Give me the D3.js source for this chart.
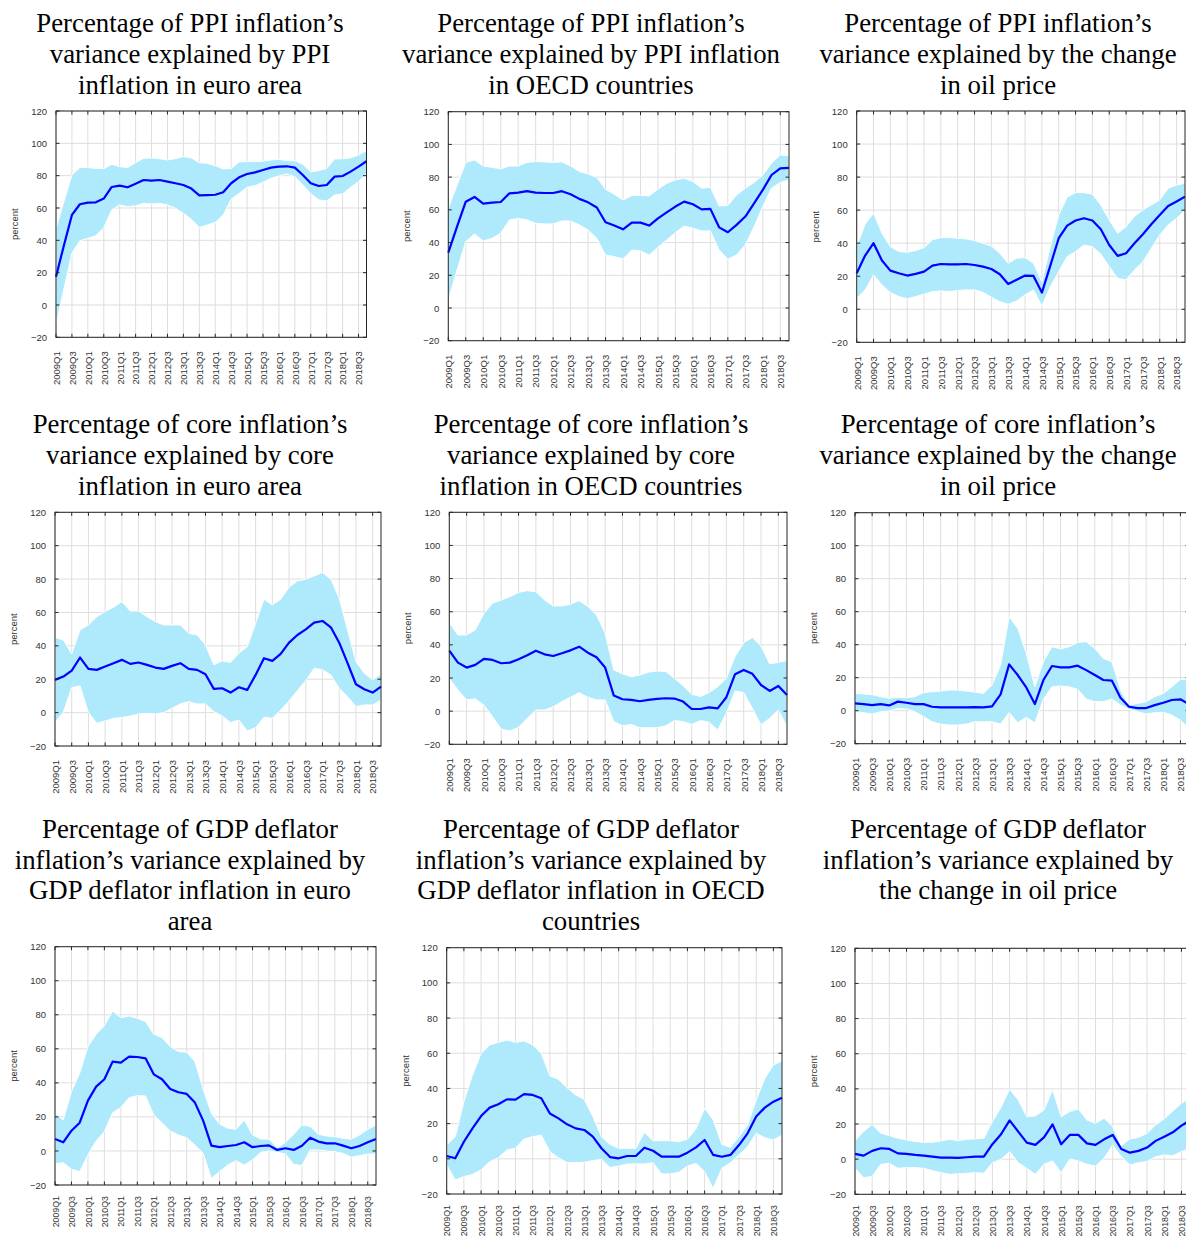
<!DOCTYPE html>
<html>
<head>
<meta charset="utf-8">
<script src="https://cdn.jsdelivr.net/npm/d3@7"></script>
<style>
  html, body { margin: 0; padding: 0; background: #fff; }
  svg { display: block; }
</style>
</head>
<body>
<svg id="chart" width="1186" height="1240"></svg>
<script>
// Quarterly horizon, 2009Q1 - 2018Q4
const quarters = [
  "2009Q1","2009Q2","2009Q3","2009Q4","2010Q1","2010Q2","2010Q3","2010Q4",
  "2011Q1","2011Q2","2011Q3","2011Q4","2012Q1","2012Q2","2012Q3","2012Q4",
  "2013Q1","2013Q2","2013Q3","2013Q4","2014Q1","2014Q2","2014Q3","2014Q4",
  "2015Q1","2015Q2","2015Q3","2015Q4","2016Q1","2016Q2","2016Q3","2016Q4",
  "2017Q1","2017Q2","2017Q3","2017Q4","2018Q1","2018Q2","2018Q3","2018Q4"
];
const xTickLabels = [
  "2009Q1","2009Q3","2010Q1","2010Q3","2011Q1","2011Q3","2012Q1","2012Q3",
  "2013Q1","2013Q3","2014Q1","2014Q3","2015Q1","2015Q3","2016Q1","2016Q3",
  "2017Q1","2017Q3","2018Q1","2018Q3"
];
const yTickValues = [-20, 0, 20, 40, 60, 80, 100, 120];

// PPI inflation explained by euro-area PPI inflation
const ppiEuroMed = [17.5,37,55.7,62.3,63.3,63.5,65.8,73,73.8,72.8,75,77.3,76.9,77.3,76.3,75.3,74.2,72,67.8,68,68.2,69.7,75.3,79,81,82,83.5,85,85.6,85.8,85,80.4,75.3,73.6,74.2,79.4,79.8,82.5,85.6,88.9];
const ppiEuroHi  = [47.4,64,80.4,85,85,84.5,84.3,87,85.6,85,88,90.7,91,90.5,89.7,90.5,91.8,91,88,87.6,86.2,84.1,84.5,88.5,88.7,88.7,89,89.7,90.1,89.3,89.3,87,82.3,83.1,84.5,90.3,90.5,91,92.8,95.5];
const ppiEuroLo  = [-11.8,10,32,39.8,41.2,42.9,47.8,58.8,61.9,60.8,61.4,62.9,62.5,62.9,61.9,59.8,56.7,53,48,49.5,51.1,55.7,65.4,69,72.8,73.8,75.9,78.4,79.8,81,79.4,74.2,69,65,64.3,68,68.7,72.8,76.3,81.4];

// PPI inflation explained by OECD PPI inflation
const ppiOecdMed = [33.8,49.7,65,67.9,63.8,64.4,64.8,70.1,70.5,71.4,70.5,70.3,70.3,71.4,69.5,66.7,64.6,61.4,52.4,50.4,48.1,52.2,52.2,50.4,54.8,58.5,62,65,63.4,60.3,60.6,49.3,46.3,50.8,55.9,64,72.2,81.3,85.4,85.6];
const ppiOecdHi  = [61,75,89,90.5,86.8,86,85,86.8,86.8,89,89.5,89.3,89,89.3,86.8,83.4,82,79.7,72.6,69.5,66,68.7,68.9,68.5,72.6,76.2,78.3,79.3,77.3,73.2,73.8,62.4,62.6,69.1,73.2,76.7,81.3,88.5,93.6,93];
const ppiOecdLo  = [4.9,23.2,40.6,45.3,41,42.6,45.7,53.8,54.8,53.8,51.8,51.4,51.4,53.2,53.2,50.8,47.7,42.6,32.4,31.4,30,35.5,34.9,32.4,37.1,41.6,46.1,50.1,48.7,47.1,47.1,35.5,29.8,32.4,38.5,49.7,62,73.2,76.7,78.3];

// PPI inflation explained by the oil price change
const ppiOilMed = [21.8,32.5,40,29.5,23.4,21.8,20.4,21.4,22.8,26.4,27.4,27.2,27.2,27.4,26.8,25.8,24.4,21.2,15.3,17.8,20.4,20.2,10.1,26.4,43,50.6,53.7,55.1,53.7,48.4,38.9,32.3,33.9,39.9,45.4,51.4,57.1,62.5,65.2,68.2];
const ppiOilHi  = [37.9,51.6,58.1,46,37.9,34.9,34.5,35.5,37.3,42,43.4,43.4,43,42.6,41.6,39.9,38.3,33.9,27.8,30.9,31.3,27.8,16.7,37.9,57,67.8,70.6,70.6,69.6,63.1,54.1,46,50,56.1,60.1,63.1,66.2,73.2,75.2,76.3];
const ppiOilLo  = [6.7,11.7,20.8,14.7,10.1,7.7,6.3,7.7,9.1,10.7,11.1,10.7,11.3,11.7,11.7,10.3,7.3,4.6,3,5,8.7,11.7,2,13.7,22.8,31.9,34.9,38.9,37.9,33.5,25.8,18.8,17.8,23.8,28.8,36.9,45,51,55.1,60.1];

// Core inflation explained by euro-area core inflation
const coreEuroMed = [19.6,21.6,25.2,33,26.2,25.6,27.6,29.6,31.6,29.2,30,28.6,27,26.2,28,29.6,26.2,25.6,23,14.2,14.6,12,15.2,13.6,22.6,32.6,31,35.2,41.9,46.5,49.9,53.9,54.9,51.1,41.9,29.6,17,14,12,15.6];
const coreEuroHi  = [45.1,43.5,35.2,49.5,52.5,57.5,60.5,63.1,66.5,60.9,60.9,57.5,54.5,52.5,52.5,52.5,47.5,46.5,40.5,28.6,31,30,35.6,39.5,53.5,67.9,64.5,67.9,75.1,78.9,79.9,81.9,83.9,79.9,68.5,49.5,30.6,23.6,19.6,23.2];
const coreEuroLo  = [-5.8,0.2,15,16,0,-6.4,-5,-3.4,-3,-2,-0.8,-0.4,-0.8,0,2.6,5.2,6.6,5.2,5.2,0.6,-2,-6,-4.4,-11,-9,-2.8,-3.4,1.6,7,13.2,19.2,26.6,25.6,22.6,14.6,9.6,3.6,4.6,4.6,7.6];

// Core inflation explained by OECD core inflation
const coreOecdMed = [36.5,29.3,26.3,27.9,31.5,30.9,28.9,29.3,31.3,33.7,36.5,34.3,33.3,34.9,36.7,38.9,35.3,32.5,26.3,9.4,7.2,6.8,6,6.8,7.4,7.8,7.6,5.8,1.3,1.3,2.3,1.7,8.4,22.3,24.9,22.5,15.8,12.2,15.2,9.8];
const coreOecdHi  = [53.4,46,46,49,59,65.1,67.1,69.1,71.7,72.7,72.1,67.1,63.5,63.5,64.5,66.7,63.1,58,47,24.9,22.5,20.8,21.8,23.5,24.3,23.9,19.8,15.4,10.2,8.8,11.2,14.8,19.8,32.9,41.3,44.4,39.3,28.5,29.5,30.5];
const coreOecdLo  = [19.8,12.8,6.8,7.4,3.7,-3.3,-10.9,-11.9,-9.7,-4.3,0.7,0.7,2.7,5.8,8.4,11.2,8.4,6.8,6.8,-6.3,-8.8,-8,-10,-10,-10,-8.8,-5.7,-6.3,-8,-5.7,-6.7,-11.3,-1.3,12.2,11.2,1.7,-8.3,-4.3,0.7,-9.3];

// Core inflation explained by the oil price change
const coreOilMed = [4.4,4,3.4,4,3.2,5.5,4.8,4,4,2.4,2,2,2,2,2.2,2,2.6,9.9,28.1,21.6,14.1,4,18.6,27.1,26.3,26.3,27.3,24.6,21.6,18.6,18.2,7.9,2.4,1.6,1.6,3.4,4.8,6.5,6.9,4];
const coreOilHi  = [10.5,10.1,9.7,8.5,7.5,8.1,7.9,8.5,11.1,11.5,11.9,12.5,12.5,11.9,11.3,10.5,15.6,27.7,57,49.9,34.7,14.5,29.7,38.8,37.4,38.8,41.4,41.8,37.8,31.7,29.7,12.5,3.4,4.4,5.5,8.5,10.5,14.5,19,18.6];
const coreOilLo  = [-0.6,-1.2,-2,-0.6,-0.2,1.4,1,-0.6,-3.6,-6.7,-8.1,-8.7,-8.7,-8.1,-6.7,-6.7,-6.7,-8.1,-1.2,-7.3,-4,-7.3,6.9,14.5,15,14.5,12.9,7.1,5.5,5.5,7.1,3.4,0.8,-0.6,-2,-1.2,-1,-2.6,-5.7,-10.7];

// GDP deflator inflation explained by euro-area GDP deflator inflation
const gdpEuroMed = [7,5.1,11.9,16.6,29.6,37.8,42.1,52.5,51.9,55.4,55.2,54.4,45,42.1,36.4,34.5,33.5,28.4,17.8,3.1,2.3,2.9,3.5,5.1,2.2,2.9,3.3,0.6,1.6,0.6,3.1,7.8,5.5,4.5,4.5,3.1,1.6,2.9,5.1,7];
const gdpEuroHi  = [22.1,18.2,34.9,45.6,61.3,68.5,73.6,82.2,78.3,79.3,77.9,76,68.5,66.6,61.3,58.4,58,52.5,36.4,22.1,15.7,13.3,12.7,18.2,9.4,7,7,2,5.1,9.8,15.3,14.3,9.8,8.8,8.4,7.4,6.9,9.4,12.7,15.3];
const gdpEuroLo  = [-7.6,-6.9,-10.8,-12.1,-2.3,5.9,11.4,22.5,25.5,31.3,32.5,32.3,21.1,16.6,11.7,9.4,7.8,3.5,-1.4,-16.1,-12.1,-8.2,-5.7,-8.2,-5.3,-0.8,0,-0.8,-1.8,-7.8,-8.6,0.6,0.6,0,-0.4,-1.4,-3.7,-2.7,-1.8,-1.8];

// GDP deflator inflation explained by OECD GDP deflator inflation
const gdpOecdMed = [1.6,0.3,9.7,17.3,24.3,29.1,31,33.8,33.6,36.8,36.3,34.4,25.8,23,19.6,17.3,16.4,12.6,6,1,0.3,1.6,1.6,6.3,4.6,1.2,1.2,1.2,3.5,6.5,10.7,2.2,1.2,2.2,7.8,14.5,24,29.1,32.5,34.7];
const gdpOecdHi  = [7.8,12.6,32.5,47.6,59.9,64.7,66.2,67.5,66.2,67,64.7,59.9,47.2,45.1,40.4,36.3,33.8,24,12.6,8.2,6,6,6,15.1,10.3,10.3,10.3,9.7,11.1,17,28.7,22.1,8.2,6.5,12.6,19.2,33.4,45.7,53.3,55.6];
const gdpOecdLo  = [-3.5,-12,-10.1,-8.8,-6.3,-1.6,0.6,5,6,11.3,12.6,13.5,4.1,0.6,-2.2,-2.2,-2,-1,-0.3,-5,-4.1,-2.9,-2.9,-2.9,-2.2,-8.6,-8.6,-7.7,-4.1,-2.6,-7.3,-16.8,-5.4,-2.2,2.2,6.9,14.5,12,10.7,13.5];

// GDP deflator inflation explained by the oil price change
const gdpOilMed = [3,2,4.7,6.2,5.8,3.3,3,2.4,2,1.4,0.9,0.9,0.7,1.1,1.4,1.4,8.5,14.2,22.1,15.7,9.4,8.1,12.4,19.8,8.5,13.8,13.8,9,8.1,11.3,13.8,5.8,3.7,4.7,6.6,10.4,12.8,15.3,19.1,22];
const gdpOilHi  = [10.5,15.7,19.8,14.7,13.4,11.9,10.9,10,9.6,9.6,10.4,11.3,10.5,11.3,11.5,11.9,21.4,29.5,39.8,33.7,24.2,24.6,28,39.4,24.2,27.1,28.6,22.3,20.4,23.3,18.5,7.7,11.5,12.3,14.7,19.5,22.9,27.4,31.8,34.7];
const gdpOilLo  = [-5.2,-10.5,-9.9,-2.9,-2.4,-5.2,-4.8,-4.8,-5.2,-6.5,-7.7,-8.6,-8.4,-8,-7.7,-8,-2,-0.1,4.3,-2,-5.2,-8.6,-2.9,-1,-7.7,0.1,-1,-2.9,-3.9,0.5,8.1,1.4,-3.3,-2,-1.4,1.4,2.4,2,4.3,6.2];

// Panel titles
const titles = [
  ["Percentage of PPI inflation\u2019s", "variance explained by PPI", "inflation in euro area"],
  ["Percentage of PPI inflation\u2019s", "variance explained by PPI inflation", "in OECD countries"],
  ["Percentage of PPI inflation\u2019s", "variance explained by the change", "in oil price"],
  ["Percentage of core inflation\u2019s", "variance explained by core", "inflation in euro area"],
  ["Percentage of core inflation\u2019s", "variance explained by core", "inflation in OECD countries"],
  ["Percentage of core inflation\u2019s", "variance explained by the change", "in oil price"],
  ["Percentage of GDP deflator", "inflation\u2019s variance explained by", "GDP deflator inflation in euro", "area"],
  ["Percentage of GDP deflator", "inflation\u2019s variance explained by", "GDP deflator inflation in OECD", "countries"],
  ["Percentage of GDP deflator", "inflation\u2019s variance explained by", "the change in oil price"]
];

const series = [
  [ppiEuroMed, ppiEuroHi, ppiEuroLo],
  [ppiOecdMed, ppiOecdHi, ppiOecdLo],
  [ppiOilMed, ppiOilHi, ppiOilLo],
  [coreEuroMed, coreEuroHi, coreEuroLo],
  [coreOecdMed, coreOecdHi, coreOecdLo],
  [coreOilMed, coreOilHi, coreOilLo],
  [gdpEuroMed, gdpEuroHi, gdpEuroLo],
  [gdpOecdMed, gdpOecdHi, gdpOecdLo],
  [gdpOilMed, gdpOilHi, gdpOilLo]
];

// Plot-box geometry: left/right edge (first/last quarter), top/bottom edge
const boxes = [
  {l: 56,    r: 366.5, t: 111,   b: 337.3},
  {l: 448.3, r: 789,   t: 111.7, b: 340.7},
  {l: 856.7, r: 1185,  t: 111,   b: 342.3},
  {l: 55,    r: 381,   t: 512.3, b: 746},
  {l: 449.3, r: 787,   t: 512.3, b: 744.3},
  {l: 855,   r: 1189,  t: 512.7, b: 743.7},
  {l: 55,    r: 376,   t: 946.7, b: 1185},
  {l: 446.7, r: 782,   t: 947.7, b: 1194},
  {l: 855,   r: 1190,  t: 948.3, b: 1194.3}
];
const titleCx = [190, 591, 998];
const titleY0 = [32, 433, 838];
const titleLH = [31, 31, 30.5];

const svg = d3.select("#chart");
const BAND = "#aeeafc";
const LINE = "#0000ff";
const GRID = "#dedede";
const FRAME = "#262626";

series.forEach((s, p) => {
  const box = boxes[p];
  const [med, hi, lo] = s;
  const x = d3.scaleLinear().domain([0, quarters.length - 1]).range([box.l, box.r]);
  const y = d3.scaleLinear().domain([-20, 120]).range([box.b, box.t]);
  const tickIdx = xTickLabels.map(q => quarters.indexOf(q));
  const g = svg.append("g");
  const col = p % 3, row = Math.floor(p / 3);

  // title
  g.append("text")
    .attr("text-anchor", "middle")
    .attr("font-family", "'Liberation Serif', 'Times New Roman', serif")
    .attr("font-size", 26.8)
    .attr("fill", "#000")
    .selectAll("tspan").data(titles[p]).join("tspan")
    .attr("x", titleCx[col])
    .attr("y", (d, i) => titleY0[row] + i * titleLH[row])
    .text(d => d);

  // gridlines
  g.append("g").selectAll("line").data(tickIdx).join("line")
    .attr("x1", d => x(d)).attr("x2", d => x(d))
    .attr("y1", box.t).attr("y2", box.b)
    .attr("stroke", GRID).attr("stroke-width", 1);
  g.append("g").selectAll("line").data(yTickValues).join("line")
    .attr("x1", box.l).attr("x2", box.r)
    .attr("y1", d => y(d)).attr("y2", d => y(d))
    .attr("stroke", GRID).attr("stroke-width", 1);

  // uncertainty band
  const area = d3.area()
    .x((d, i) => x(i))
    .y0((d, i) => y(lo[i]))
    .y1((d, i) => y(hi[i]));
  g.append("path").datum(med)
    .attr("d", area)
    .attr("fill", BAND)
    .attr("stroke", "#ffffff")
    .attr("stroke-width", 1);

  // median
  const line = d3.line().x((d, i) => x(i)).y(d => y(d));
  g.append("path").datum(med)
    .attr("d", line)
    .attr("fill", "none")
    .attr("stroke", LINE)
    .attr("stroke-width", 2.2)
    .attr("stroke-linejoin", "round");

  // frame with inward ticks
  g.append("rect")
    .attr("x", box.l).attr("y", box.t)
    .attr("width", box.r - box.l).attr("height", box.b - box.t)
    .attr("fill", "none").attr("stroke", FRAME).attr("stroke-width", 1);
  const tk = 3.5;
  const ticks = g.append("g").attr("stroke", FRAME).attr("stroke-width", 1);
  tickIdx.forEach(i => {
    ticks.append("line").attr("x1", x(i)).attr("x2", x(i)).attr("y1", box.t).attr("y2", box.t + tk);
    ticks.append("line").attr("x1", x(i)).attr("x2", x(i)).attr("y1", box.b).attr("y2", box.b - tk);
  });
  yTickValues.forEach(v => {
    ticks.append("line").attr("x1", box.l).attr("x2", box.l + tk).attr("y1", y(v)).attr("y2", y(v));
    ticks.append("line").attr("x1", box.r).attr("x2", box.r - tk).attr("y1", y(v)).attr("y2", y(v));
  });

  // y-axis labels
  const yAxis = d3.axisLeft(y).tickValues(yTickValues).tickSize(0).tickPadding(9);
  const ya = g.append("g").attr("transform", `translate(${box.l},0)`).call(yAxis);
  ya.select(".domain").remove();
  ya.selectAll("text")
    .attr("font-family", "'Liberation Sans', Arial, sans-serif")
    .attr("font-size", 9.5).attr("fill", "#333");

  // x-axis labels (vertical)
  const lastRow = row === 2;
  const xAxis = d3.axisBottom(x).tickValues(tickIdx).tickFormat(i => quarters[i]).tickSize(0);
  const xa = g.append("g").attr("transform", `translate(0,${box.b})`).call(xAxis);
  xa.select(".domain").remove();
  xa.selectAll("text")
    .attr("font-family", "'Liberation Sans', Arial, sans-serif")
    .attr("font-size", lastRow ? 8.8 : 9.5).attr("fill", "#333")
    .attr("text-anchor", "end")
    .attr("dy", "0.35em")
    .attr("transform", `translate(0,${lastRow ? 11 : 14}) rotate(-90)`)
    .attr("x", 0).attr("y", 0);

  // axis title
  g.append("text")
    .attr("transform", `translate(${box.l - 38},${(box.t + box.b) / 2}) rotate(-90)`)
    .attr("text-anchor", "middle")
    .attr("font-family", "'Liberation Sans', Arial, sans-serif")
    .attr("font-size", 9.5).attr("fill", "#333")
    .text("percent");
});
</script>
</body>
</html>
